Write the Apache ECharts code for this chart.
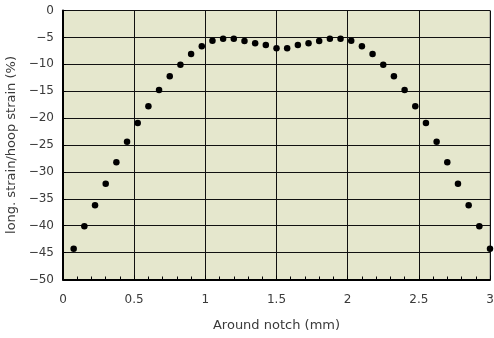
<!DOCTYPE html>
<html>
<head>
<meta charset="utf-8">
<script src="https://cdn.jsdelivr.net/npm/echarts@6/dist/echarts.min.js"></script>
<style>
  html, body { margin: 0; padding: 0; background: #ffffff; }
  #chart { width: 494px; height: 338px; }
</style>
</head>
<body>
<div id="chart"></div>
<script>
// Position around the notch (mm)
const positions = [
  0.075, 0.15, 0.225, 0.3, 0.375, 0.45, 0.525, 0.6, 0.675, 0.75,
  0.825, 0.9, 0.975, 1.05, 1.125, 1.2, 1.275, 1.35, 1.425, 1.5,
  1.575, 1.65, 1.725, 1.8, 1.875, 1.95, 2.025, 2.1, 2.175, 2.25,
  2.325, 2.4, 2.475, 2.55, 2.625, 2.7, 2.775, 2.85, 2.925, 3.0
];
// Ratio of longitudinal to hoop strain (%)
const strainRatio = [
  -44.3, -40.1, -36.2, -32.2, -28.2, -24.4, -20.9, -17.8, -14.8, -12.2,
  -10.1, -8.1, -6.65, -5.6, -5.25, -5.25, -5.65, -6.1, -6.4, -7.0,
  -7.0, -6.4, -6.1, -5.65, -5.25, -5.25, -5.6, -6.65, -8.1, -10.1,
  -12.2, -14.8, -17.8, -20.9, -24.4, -28.2, -32.2, -36.2, -40.1, -44.3
];

const xTitle = 'Around notch (mm)';
const yTitle = 'long. strain/hoop strain (%)';

const points = positions.map((x, i) => [x, strainRatio[i]]);
const minus = v => String(v).replace('-', '\u2212');

const chart = echarts.init(document.getElementById('chart'), null, { renderer: 'canvas' });
chart.setOption({
  animation: false,
  textStyle: { fontFamily: 'DejaVu Sans, sans-serif' },
  grid: {
    left: 63, right: 4, top: 10.5, bottom: 58.5,
    outerBoundsMode: 'none',
    containLabel: false,
    show: true,
    backgroundColor: '#e5e7cd',
    borderColor: '#8a8a8a',
    borderWidth: 1
  },
  xAxis: {
    type: 'value',
    min: 0, max: 3, interval: 0.5,
    name: xTitle,
    nameLocation: 'middle',
    nameGap: 40,
    nameTextStyle: { color: '#3a3a3a', fontSize: 13 },
    axisLine: { show: true, onZero: false, lineStyle: { color: '#000', width: 2 } },
    axisTick: { show: true, inside: true, length: 4, lineStyle: { color: '#000' } },
    minorTick: { show: true, splitNumber: 5, length: 3, lineStyle: { color: '#000' } },
    axisLabel: { color: '#3a3a3a', fontSize: 12, margin: 14, formatter: v => minus(v) },
    splitLine: { show: true, lineStyle: { color: '#111', width: 1 } }
  },
  yAxis: {
    type: 'value',
    min: -50, max: 0, interval: 5,
    name: yTitle,
    nameLocation: 'middle',
    nameGap: 40,
    nameTextStyle: { color: '#3a3a3a', fontSize: 13 },
    axisLine: { show: true, onZero: false, lineStyle: { color: '#000', width: 2 } },
    axisTick: { show: true, inside: true, length: 3, lineStyle: { color: '#000' } },
    axisLabel: { color: '#3a3a3a', fontSize: 12, margin: 9, formatter: v => minus(v) },
    splitLine: { show: true, lineStyle: { color: '#111', width: 1 } }
  },
  series: [{
    type: 'scatter',
    data: points,
    symbol: 'circle',
    symbolSize: 6.5,
    itemStyle: { color: '#000', opacity: 1 },
    clip: false
  }]
});
</script>
</body>
</html>
